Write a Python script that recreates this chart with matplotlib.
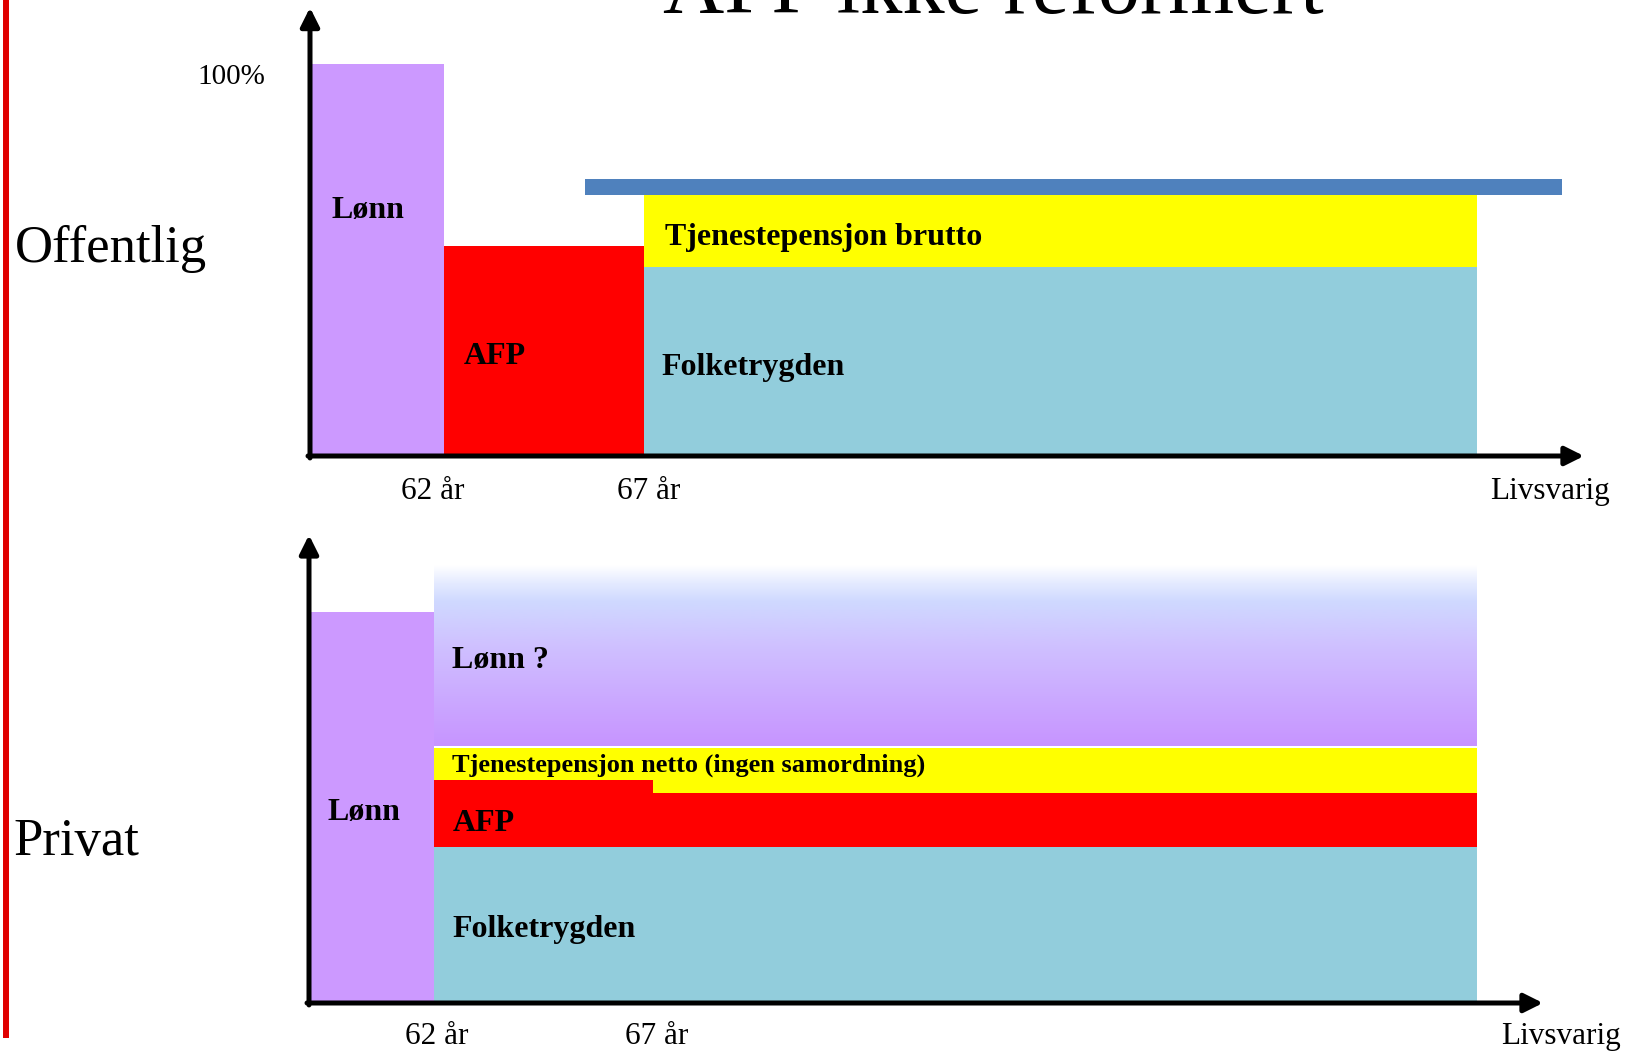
import numpy as np
import matplotlib
matplotlib.use("Agg")
import matplotlib.pyplot as plt
from matplotlib.colors import LinearSegmentedColormap
from matplotlib.lines import Line2D

plt.rcParams['font.family'] = ['Liberation Serif', 'DejaVu Serif']

# Offentlig (øverste panel): x i diagramenheter, y i prosent av lønn
top_x_start, top_x_62, top_x_67, top_x_end = 0.0, 1.34, 3.34, 11.67
top_lonn = 100.0
top_afp = 53.6
top_folketrygd = 48.1
top_tjp_brutto = 66.7
top_blue_x = (2.75, 12.52)
top_blue_y = (66.7, 70.6)

# Privat (nederste panel)
bot_x_start, bot_x_62, bot_x_67, bot_x_end = 0.0, 1.25, 3.44, 11.68
bot_lonn = 100.0
bot_folketrygd = 39.9
bot_afp_62_67 = 57.0
bot_afp_67 = 53.7
bot_tjp_netto = 65.2
bot_lonn_q = (65.7, 111.8)

tick_labels = ['62 år', '67 år', 'Livsvarig']
top_tick_x = [1.23, 3.39, 12.40]
bot_tick_x = [1.28, 3.48, 12.52]

PURPLE = '#cc99ff'
RED = '#ff0000'
LBLUE = '#92cddc'
YELLOW = '#ffff00'
BLUE = '#4f81bd'

W, H = 1629, 1051
fig = plt.figure(figsize=(W / 100, H / 100), dpi=100)

# akser plassert i piksler, 1 x-enhet = 100 px, 1 % = 3.92 px
ax1 = fig.add_axes([310 / W, 1 - 456 / H, (W - 310) / W, 456 / H])
ax1.set_xlim(0, (W - 310) / 100)
ax1.set_ylim(0, 456 / 3.92)
ax2 = fig.add_axes([309 / W, 1 - 1003 / H, (W - 309) / W, (1003 - 520) / H])
ax2.set_xlim(0, (W - 309) / 100)
ax2.set_ylim(0, (1003 - 520) / 3.91)
for ax in (ax1, ax2):
    ax.axis('off')

bold = dict(fontweight='bold', fontsize=23, va='baseline')

# --- Offentlig ---
ax1.bar(top_x_start, top_lonn, width=top_x_62 - top_x_start, align='edge', color=PURPLE, zorder=2)
ax1.bar(top_x_62, top_afp, width=top_x_67 - top_x_62, align='edge', color=RED, zorder=2)
ax1.bar(top_x_67, top_folketrygd, width=top_x_end - top_x_67, align='edge', color=LBLUE, zorder=2)
ax1.bar(top_x_67, top_tjp_brutto - top_folketrygd, bottom=top_folketrygd,
        width=top_x_end - top_x_67, align='edge', color=YELLOW, zorder=2)
ax1.bar(top_blue_x[0], top_blue_y[1] - top_blue_y[0], bottom=top_blue_y[0],
        width=top_blue_x[1] - top_blue_x[0], align='edge', color=BLUE, zorder=3)

ax1.text(0.58, 60.7, 'Lønn', ha='center', **bold)
ax1.text(1.54, 23.5, 'AFP', ha='left', **bold)
ax1.text(3.55, 53.8, 'Tjenestepensjon brutto', ha='left', **bold)
ax1.text(3.51, 20.7, 'Folketrygden', ha='left', **bold)
ax1.text(-0.79, 94.9, '100%', ha='center', va='baseline', fontsize=21, clip_on=False)
ax1.text(-2.95, 49.5, 'Offentlig', ha='left', va='baseline', fontsize=38, clip_on=False)
for x, lab in zip(top_tick_x, tick_labels):
    ax1.text(x, -10.9, lab, ha='center', va='baseline', fontsize=22.5, clip_on=False)

# --- Privat ---
ax2.bar(bot_x_start, bot_lonn, width=bot_x_62 - bot_x_start, align='edge', color=PURPLE, zorder=2)
grad = LinearSegmentedColormap.from_list(
    'lonn', [(0.0, '#c794ff'), (0.55, '#cfc0ff'), (0.8, '#cfd9ff'),
             (0.9, '#e4eaff'), (1.0, '#ffffff')])
ax2.imshow(np.linspace(0, 1, 256).reshape(-1, 1), cmap=grad, origin='lower',
           extent=[bot_x_62, bot_x_end, bot_lonn_q[0], bot_lonn_q[1]],
           aspect='auto', zorder=2, interpolation='bilinear')
ax2.bar(bot_x_62, bot_tjp_netto - bot_afp_67, bottom=bot_afp_67,
        width=bot_x_end - bot_x_62, align='edge', color=YELLOW, zorder=2)
ax2.bar(bot_x_62, bot_afp_62_67 - bot_folketrygd, bottom=bot_folketrygd,
        width=bot_x_67 - bot_x_62, align='edge', color=RED, zorder=3)
ax2.bar(bot_x_67, bot_afp_67 - bot_folketrygd, bottom=bot_folketrygd,
        width=bot_x_end - bot_x_67, align='edge', color=RED, zorder=3)
ax2.bar(bot_x_62, bot_folketrygd, width=bot_x_end - bot_x_62, align='edge', color=LBLUE, zorder=3)
ax2.set_xlim(0, (W - 309) / 100)
ax2.set_ylim(0, (1003 - 520) / 3.91)

ax2.text(0.55, 46.8, 'Lønn', ha='center', **bold)
ax2.text(1.43, 85.7, 'Lønn ?', ha='left', **bold)
ax2.text(1.43, 59.3, 'Tjenestepensjon netto (ingen samordning)', ha='left',
         fontweight='bold', fontsize=19, va='baseline', zorder=5)
ax2.text(1.44, 44.0, 'AFP', ha='left', zorder=5, **bold)
ax2.text(1.43, 16.9, 'Folketrygden', ha='left', zorder=5, **bold)
ax2.text(-2.96, 37.9, 'Privat', ha='left', va='baseline', fontsize=38, clip_on=False)
for x, lab in zip(bot_tick_x, tick_labels):
    ax2.text(x, -10.6, lab, ha='center', va='baseline', fontsize=22.5, clip_on=False)

# akser med piler
arrow = dict(arrowstyle='-|>', lw=3.6, color='black', mutation_scale=28,
             shrinkA=0, shrinkB=0)
ax1.annotate('', xy=(12.74, 0), xytext=(-0.02, 0), arrowprops=arrow, zorder=6,
             annotation_clip=False)
ax1.annotate('', xy=(0, 114.4), xytext=(0, -0.5), arrowprops=arrow, zorder=6,
             annotation_clip=False)
ax2.annotate('', xy=(12.34, 0), xytext=(-0.02, 0), arrowprops=arrow, zorder=6,
             annotation_clip=False)
ax2.annotate('', xy=(0, 119.7), xytext=(0, -0.5), arrowprops=arrow, zorder=6,
             annotation_clip=False)

# rød strek til venstre og tittel
fig.add_artist(Line2D([6 / W, 6 / W], [1, 1 - 1038 / H], color='#e00000', lw=4.3,
                      solid_capstyle='butt'))
fig.text(993 / W, 1 - 13 / H, 'AFP ikke reformert', ha='center', va='baseline', fontsize=61)

fig.savefig('out.png', dpi=100)
